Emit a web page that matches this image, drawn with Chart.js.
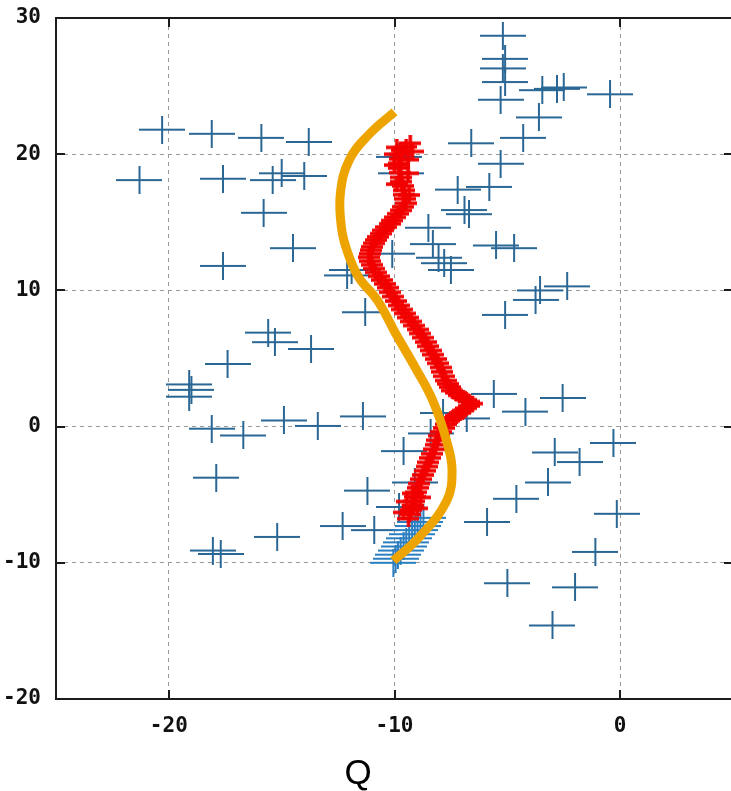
<!DOCTYPE html>
<html>
<head>
<meta charset="utf-8">
<title>Q scatter</title>
<script src="https://cdn.jsdelivr.net/npm/chart.js@4.4.1/dist/chart.umd.min.js"></script>
<style>
  html, body { margin: 0; padding: 0; background: #fff; overflow: hidden; }
  #wrap { position: relative; width: 745px; height: 791px; }
  #xlabel {
    position: absolute; left: 358px; top: 754px; transform: translateX(-50%);
    font: 35px/35px "Liberation Sans", Arial, sans-serif; color: #000;
  }
</style>
</head>
<body>
<div id="wrap">
  <canvas id="plot"></canvas>
  <div id="xlabel">Q</div>
</div>
<script>
// axis ticks
const xTicks = [-20, -10, 0];
const yTicks = [-20, -10, 0, 10, 20, 30];

// scattered measurements (blue crosses)
const bluePoints = [
  [-20.3, 21.8], [-18.1, 21.5], [-21.3, 18.1], [-17.6, 18.2], [-15.9, 21.2],
  [-13.8, 20.9], [-15.4, 18.1], [-15.0, 18.6], [-14.0, 18.4], [-15.8, 15.7],
  [-14.5, 13.1], [-6.6, 20.8], [-7.2, 17.4], [-5.8, 17.6], [-6.9, 15.9],
  [-6.7, 15.6], [-8.5, 14.6], [-8.3, 13.4], [-8.05, 12.4], [-7.8, 12.0],
  [-7.5, 11.5], [-5.2, 28.7], [-5.1, 27.0], [-5.2, 26.3], [-5.1, 25.3],
  [-5.3, 24.0], [-3.45, 24.7], [-2.8, 24.8], [-2.5, 24.9], [-0.45, 24.4],
  [-3.6, 22.7], [-4.3, 21.2], [-5.3, 19.3], [-5.5, 13.3], [-4.7, 13.1],
  [-3.55, 10.0], [-2.35, 10.3], [-3.75, 9.3], [-5.1, 8.2], [-5.6, 2.4],
  [-4.2, 1.1], [-2.55, 2.1], [-0.3, -1.2], [-2.9, -1.9], [-1.8, -2.6],
  [-3.2, -4.1], [-4.6, -5.3], [-0.15, -6.4], [-1.1, -9.2], [-5.0, -11.5],
  [-2.0, -11.8], [-3.0, -14.6], [-5.9, -7.0], [-11.9, 11.5], [-12.1, 11.1],
  [-10.1, 12.7], [-15.6, 6.9], [-15.3, 6.2], [-13.7, 5.7], [-14.9, 0.45],
  [-13.4, 0.05], [-11.4, 0.75], [-9.6, -1.8], [-11.2, -4.7], [-7.85, 1.0],
  [-6.8, 0.6], [-11.3, 8.4], [-17.6, 11.8], [-17.4, 4.6], [-19.1, 3.1],
  [-19.0, 2.7], [-19.1, 2.2], [-18.1, -0.15], [-16.7, -0.65], [-17.9, -3.75],
  [-18.05, -9.1], [-17.7, -9.35], [-15.2, -8.1], [-12.3, -7.3], [-10.9, -7.6],
  [-8.4, -0.5], [-9.1, -4.1], [-9.8, -5.9], [-9.7, 18.6], [-9.8, 19.8]
];

// start of the track, still blue
const trackStart = [
  [-10.05, -10.0], [-9.95, -9.7], [-9.85, -9.4], [-9.73, -9.1], [-9.6, -8.8],
  [-9.48, -8.5], [-9.35, -8.2], [-9.22, -7.9], [-9.1, -7.6], [-8.98, -7.3],
  [-8.85, -7.0], [-8.72, -6.7]
];

// the red track
const track = [
  [-9.38, -6.76], [-9.33, -6.45], [-9.27, -6.12], [-9.2, -5.8],
  [-9.15, -5.48], [-9.09, -5.15], [-9.03, -4.82], [-8.98, -4.49],
  [-8.9, -4.18], [-8.82, -3.86], [-8.74, -3.55], [-8.67, -3.24],
  [-8.58, -2.93], [-8.5, -2.62], [-8.41, -2.3], [-8.32, -1.99],
  [-8.25, -1.66], [-8.18, -1.33], [-8.11, -1.0], [-8.05, -0.66],
  [-7.92, -0.38], [-7.8, -0.1], [-7.7, 0.17], [-7.6, 0.44],
  [-7.42, 0.62], [-7.26, 0.8], [-7.1, 1.0], [-6.95, 1.18],
  [-6.82, 1.35], [-6.68, 1.52], [-6.55, 1.69],
  [-6.68, 1.84], [-6.82, 1.98], [-6.95, 2.13],
  [-7.12, 2.3], [-7.28, 2.48], [-7.43, 2.65],
  [-7.54, 2.9], [-7.64, 3.14], [-7.74, 3.38],
  [-7.81, 3.7], [-7.88, 4.02], [-7.96, 4.34],
  [-8.07, 4.65], [-8.18, 4.96], [-8.29, 5.28], [-8.4, 5.59],
  [-8.51, 5.9], [-8.62, 6.21], [-8.74, 6.53], [-8.85, 6.84],
  [-8.98, 7.13], [-9.12, 7.42], [-9.25, 7.72], [-9.38, 8.01],
  [-9.53, 8.31], [-9.67, 8.6], [-9.82, 8.9],
  [-9.94, 9.22], [-10.06, 9.55], [-10.18, 9.87], [-10.3, 10.2],
  [-10.43, 10.48], [-10.57, 10.76], [-10.7, 11.04], [-10.84, 11.32],
  [-10.92, 11.6], [-11.0, 11.88], [-11.08, 12.15], [-11.15, 12.43],
  [-11.1, 12.69], [-11.04, 12.95], [-10.98, 13.2], [-10.93, 13.46],
  [-10.82, 13.7], [-10.71, 13.93], [-10.6, 14.17], [-10.49, 14.41],
  [-10.36, 14.65], [-10.22, 14.89], [-10.09, 15.13], [-9.96, 15.37],
  [-9.84, 15.63], [-9.73, 15.88], [-9.61, 16.14], [-9.5, 16.4],
  [-9.53, 16.72], [-9.57, 17.03], [-9.6, 17.35],
  [-9.64, 17.67], [-9.69, 17.98], [-9.73, 18.3],
  [-9.76, 18.65], [-9.79, 18.99], [-9.82, 19.34],
  [-9.76, 19.66], [-9.71, 19.98], [-9.65, 20.3],
  [-9.48, 20.55], [-9.3, 20.8],
  // wider spots of the track
  [-9.35, 17.0], [-9.9, 17.8], [-9.4, 18.6], [-10.0, 19.2], [-9.4, 19.6],
  [-10.0, 20.0], [-9.2, 20.2], [-9.9, 20.5],
  [-9.6, -6.3], [-9.0, -6.0], [-9.45, -5.5], [-8.85, -5.2], [-9.2, -4.9]
];

// fitted curve (orange)
const fitCurve = [
  [-10.05, -9.85], [-8.95, -8.2], [-7.7, -5.5], [-7.45, -3.2], [-7.7, -1.0],
  [-8.3, 1.9], [-9.07, 4.3], [-9.95, 6.84], [-10.75, 9.26], [-11.6, 11.0],
  [-12.1, 12.9], [-12.35, 14.6], [-12.4, 17.1], [-12.0, 19.6], [-11.1, 21.5],
  [-10.0, 23.1]
];

const toXY = arr => arr.map(([x, y]) => ({ x, y }));

function makeCross(w, h, lw, color) {
  const c = document.createElement('canvas');
  c.width = w;
  c.height = h;
  const g = c.getContext('2d');
  g.strokeStyle = color;
  g.lineWidth = lw;
  g.beginPath();
  g.moveTo(0, h / 2); g.lineTo(w, h / 2);
  g.moveTo(w / 2, 0); g.lineTo(w / 2, h);
  g.stroke();
  return c;
}

const blueCross = makeCross(46, 28, 2, '#2a6794');
const startCross = makeCross(46, 28, 2, '#2b7fc0');
const redCross = makeCross(22, 16, 3.5, '#f20000');

// box around the plot with small inward ticks on every side
const framePlugin = {
  id: 'frame',
  afterDraw(chart) {
    const { ctx, chartArea: a, scales: { x, y } } = chart;
    ctx.save();
    ctx.strokeStyle = '#1c1c1c';
    ctx.lineWidth = 2;
    ctx.strokeRect(a.left, a.top, a.right - a.left, a.bottom - a.top);
    ctx.beginPath();
    xTicks.forEach(v => {
      const px = Math.round(x.getPixelForValue(v));
      ctx.moveTo(px, a.top); ctx.lineTo(px, a.top + 9);
      ctx.moveTo(px, a.bottom); ctx.lineTo(px, a.bottom - 9);
    });
    yTicks.forEach(v => {
      const py = Math.round(y.getPixelForValue(v));
      ctx.moveTo(a.left, py); ctx.lineTo(a.left + 9, py);
      ctx.moveTo(a.right, py); ctx.lineTo(a.right - 9, py);
    });
    ctx.stroke();
    ctx.restore();
  }
};

const tickFont = { family: '"DejaVu Sans Mono", monospace', size: 21, weight: 'bold' };

new Chart(document.getElementById('plot'), {
  type: 'scatter',
  data: {
    datasets: [
      {
        label: 'fit',
        data: toXY(fitCurve),
        showLine: true,
        borderColor: '#eea400',
        borderWidth: 9,
        borderCapStyle: 'butt',
        tension: 0.4,
        pointRadius: 0,
        order: 0
      },
      {
        label: 'track',
        data: toXY(track),
        pointStyle: redCross,
        pointRadius: 4,
        order: 1
      },
      {
        label: 'start',
        data: toXY(trackStart),
        pointStyle: startCross,
        pointRadius: 4,
        order: 2
      },
      {
        label: 'points',
        data: toXY(bluePoints),
        pointStyle: blueCross,
        pointRadius: 4,
        order: 3
      }
    ]
  },
  options: {
    responsive: true,
    maintainAspectRatio: false,
    animation: false,
    events: [],
    layout: { padding: { top: 18, right: 12, left: 0, bottom: 0 } },
    plugins: {
      legend: { display: false },
      tooltip: { enabled: false }
    },
    scales: {
      x: {
        type: 'linear',
        min: -25,
        max: 5,
        afterBuildTicks: s => { s.ticks = xTicks.map(v => ({ value: v })); },
        afterFit: s => { s.height = 92; },
        grid: { color: '#9a9a9a', lineWidth: 1, drawTicks: false },
        border: { display: false, dash: [4, 4] },
        ticks: { font: tickFont, color: '#111', padding: 15, maxRotation: 0 }
      },
      y: {
        type: 'linear',
        min: -20,
        max: 30,
        afterBuildTicks: s => { s.ticks = yTicks.map(v => ({ value: v })); },
        afterFit: s => { s.width = 56; },
        // invisible tick marks keep the labels clear of the frame
        grid: { color: '#9a9a9a', lineWidth: 1, drawTicks: true, tickLength: 10, tickColor: 'rgba(0,0,0,0)' },
        border: { display: false, dash: [4, 4] },
        ticks: { font: tickFont, color: '#111', padding: 5 }
      }
    }
  },
  plugins: [framePlugin]
});
</script>
</body>
</html>
